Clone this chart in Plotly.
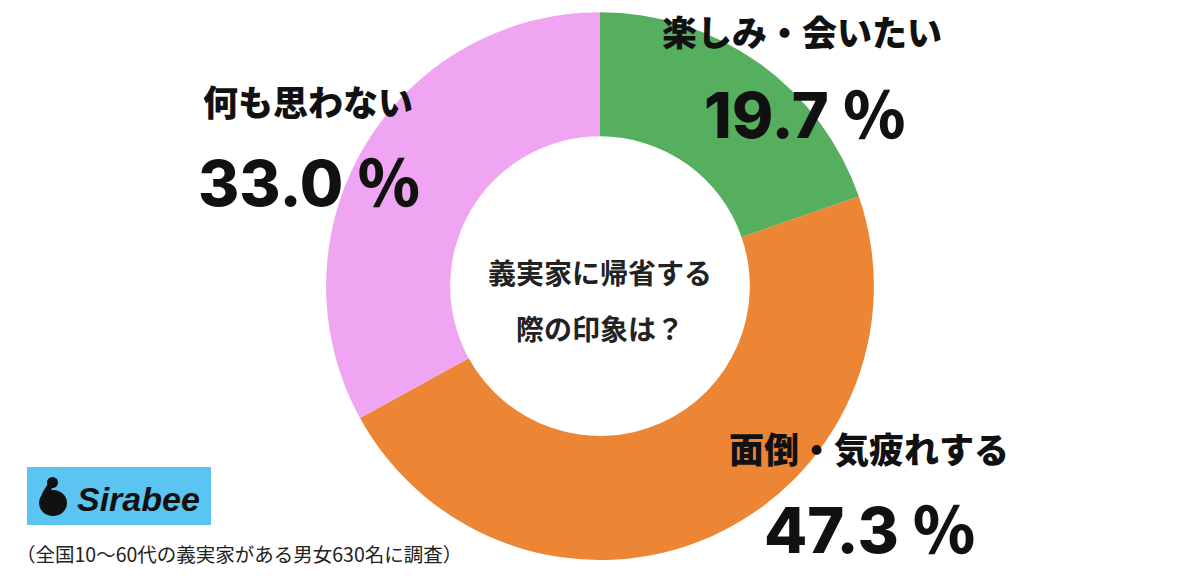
import plotly.graph_objects as go

# survey categories, clockwise from the top
labels = ["楽しみ・会いたい", "面倒・気疲れする", "何も思わない"]
values = [19.7, 47.3, 33.0]
colors = ["#56AE5F", "#EC8534", "#EFA5F1"]

center_title = ["義実家に帰省する", "際の印象は？"]
footnote = "（全国10～60代の義実家がある男女630名に調査）"
brand = "Sirabee"

FONT = "Noto Sans CJK JP"
NUM_FONT = "Inter, Noto Sans CJK JP"

fig = go.Figure(go.Pie(
    labels=labels,
    values=values,
    marker=dict(colors=colors, line=dict(width=0)),
    hole=0.547,
    sort=False,
    direction="clockwise",
    rotation=0,
    textinfo="none",
    hoverinfo="label+percent",
    showlegend=False,
    domain=dict(x=[0.2717, 0.7283], y=[0.0378, 0.979]),
))

# category labels and percentages placed beside their slices
label_pos = [(802, 30), (869, 447), (308, 100)]
value_pos = [(805, 115), (870, 530), (309, 183)]

annotations = []
for lab, val, (lx, ly), (vx, vy) in zip(labels, values, label_pos, value_pos):
    annotations.append(dict(
        text=lab, x=lx / 1200, y=1 - ly / 582,
        xref="paper", yref="paper", showarrow=False,
        font=dict(family=FONT, size=35, color="#111111", weight=900),
        xanchor="center", yanchor="middle",
    ))
    annotations.append(dict(
        text=f"{val:.1f} ％", x=vx / 1200, y=1 - vy / 582,
        xref="paper", yref="paper", showarrow=False,
        font=dict(family=NUM_FONT, size=63, color="#111111", weight=800),
        xanchor="center", yanchor="middle",
    ))

# question in the hole
for i, line in enumerate(center_title):
    annotations.append(dict(
        text=line, x=0.5, y=1 - (272 + i * 56) / 582,
        xref="paper", yref="paper", showarrow=False,
        font=dict(family=FONT, size=28, color="#222222", weight=700),
        xanchor="center", yanchor="middle",
    ))

# brand logo text
annotations.append(dict(
    text=f"<b><i>{brand}</i></b>", x=138 / 1200, y=1 - 499 / 582,
    xref="paper", yref="paper", showarrow=False,
    font=dict(family="Liberation Sans", size=34, color="#111111"),
    xanchor="center", yanchor="middle",
))

annotations.append(dict(
    text=footnote, x=14 / 1200, y=1 - 553 / 582,
    xref="paper", yref="paper", showarrow=False,
    font=dict(family=FONT, size=19.5, color="#222222"),
    xanchor="left", yanchor="middle",
))

shapes = [
    # blue logo box
    dict(type="rect", xref="paper", yref="paper",
         x0=27 / 1200, x1=211 / 1200, y0=1 - 525 / 582, y1=1 - 467 / 582,
         fillcolor="#5CC4F1", line=dict(width=0), layer="below"),
    # simple logo mark
    dict(type="circle", xref="paper", yref="paper",
         x0=39 / 1200, x1=67 / 1200, y0=1 - 516 / 582, y1=1 - 490 / 582,
         fillcolor="#111111", line=dict(width=0)),
    dict(type="circle", xref="paper", yref="paper",
         x0=47 / 1200, x1=58 / 1200, y0=1 - 488 / 582, y1=1 - 477 / 582,
         fillcolor="#111111", line=dict(width=0)),
    dict(type="line", xref="paper", yref="paper",
         x0=50 / 1200, x1=44 / 1200, y0=1 - 486 / 582, y1=1 - 496 / 582,
         line=dict(color="#111111", width=6)),
]

fig.update_layout(
    width=1200,
    height=582,
    margin=dict(l=0, r=0, t=0, b=0),
    paper_bgcolor="white",
    plot_bgcolor="white",
    annotations=annotations,
    shapes=shapes,
)

# drop the browser's default page margin so the figure sits at the window's corner
fig.write_html("out.html", config={"displayModeBar": False},
               post_script="document.body.style.margin='0';")
